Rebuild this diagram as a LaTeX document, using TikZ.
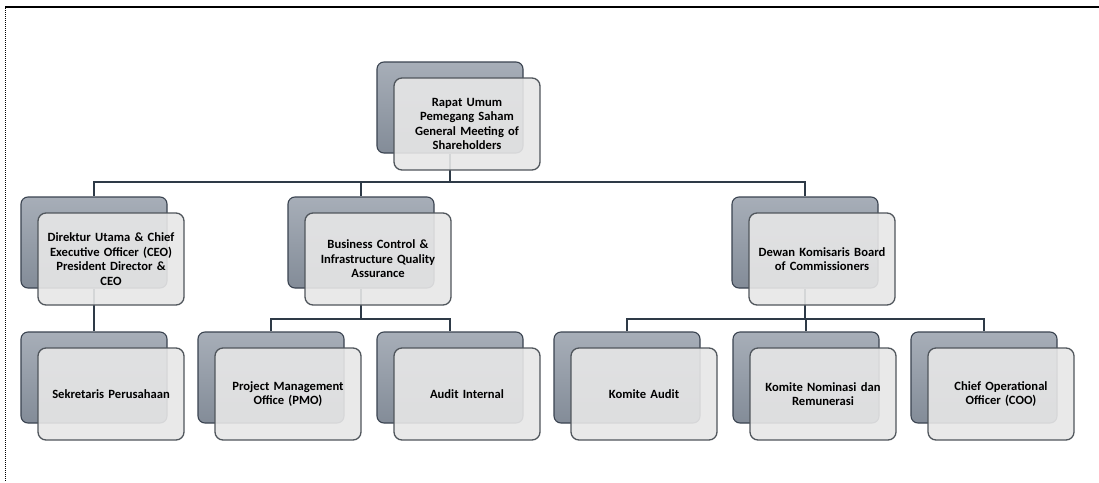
\documentclass[tikz,border=0pt]{standalone}
\usepackage{fontspec}
\setmainfont{Carlito}
\usetikzlibrary{calc}

\definecolor{linkcol}{HTML}{2E3A47}
\definecolor{backtop}{HTML}{A7AEB8}
\definecolor{backbot}{HTML}{838C98}
\definecolor{backedge}{HTML}{3A4350}
\definecolor{frontfill}{HTML}{E7E7E7}
\definecolor{frontedge}{HTML}{50565C}

\tikzset{
  conn/.style={draw=linkcol, line width=2.2pt},
  backbox/.style={draw=backedge, line width=1.1pt, rounded corners=7pt,
    top color=backtop, bottom color=backbot,
    minimum width=146pt, minimum height=91pt, inner sep=0pt},
  frontbox/.style={draw=frontedge, line width=1.3pt, rounded corners=8pt,
    fill=frontfill, fill opacity=0.9, text opacity=1,
    minimum width=146pt, minimum height=92pt, inner sep=0pt,
    text width=144pt, align=center,
    font=\bfseries\fontsize{12.6}{14.5}\selectfont}
}

% one unit: a dark back card and a light front card carrying the label
% #1 name, #2 left edge of the back card, #3 top edge, #4 label
\newcommand\orgunit[4]{%
  \node[backbox] (#1b) at ($(#2,#3)+(73,45.5)$) {};
  \node[frontbox] (#1) at ($(#2,#3)+(90,62)$) {#4};
}

\begin{document}
\begin{tikzpicture}[x=1pt,y=-1pt]
  \useasboundingbox (0,0) rectangle (1099,482);
  \fill[white] (0,0) rectangle (1099,482);

  % page frame
  \draw[line width=1.6pt] (5,7) -- (1099,7);
  \draw[line width=1pt, densely dotted] (5,8) -- (5,482);

  % rows of the horizontal connector bars
  \coordinate (barA) at (0,182);
  \coordinate (barB) at (0,319);

  % back-card anchors, placed first so connectors sit behind the cards
  \begin{scope}[opacity=0]
    \node[backbox] (rupsb) at (450,107.5) {};
    \node[backbox] (ceob)  at (94,242.5) {};
    \node[backbox] (bcb)   at (361,242.5) {};
    \node[backbox] (dkb)   at (805,242.5) {};
    \node[backbox] (sekb)  at (94,377.5) {};
    \node[backbox] (pmob)  at (271,377.5) {};
    \node[backbox] (aib)   at (450,377.5) {};
    \node[backbox] (kab)   at (627,377.5) {};
    \node[backbox] (knb)   at (806,377.5) {};
    \node[backbox] (coob)  at (984,377.5) {};
  \end{scope}

  % connectors
  \draw[conn] (rupsb.south) -- (rupsb.south |- barA);
  \draw[conn] (ceob.north) -- (ceob.north |- barA) -- (dkb.north |- barA) -- (dkb.north);
  \draw[conn] (bcb.north) -- (bcb.north |- barA);

  \draw[conn] (ceob.south) -- (sekb.north);

  \draw[conn] (bcb.south) -- (bcb.south |- barB);
  \draw[conn] (pmob.north) -- (pmob.north |- barB) -- (aib.north |- barB) -- (aib.north);

  \draw[conn] (dkb.south) -- (dkb.south |- barB);
  \draw[conn] (kab.north) -- (kab.north |- barB) -- (coob.north |- barB) -- (coob.north);
  \draw[conn] (knb.north) -- (knb.north |- barB);

  % cards
  \orgunit{rups}{377}{62}{Rapat Umum\\Pemegang Saham\\General Meeting of\\Shareholders}
  \orgunit{ceo}{21}{197}{Direktur Utama \& Chief\\Executive Officer (CEO)\\President Director \&\\CEO}
  \orgunit{bc}{288}{197}{Business Control \&\\Infrastructure Quality\\Assurance}
  \orgunit{dk}{732}{197}{Dewan Komisaris Board\\of Commissioners}
  \orgunit{sek}{21}{332}{Sekretaris Perusahaan}
  \orgunit{pmo}{198}{332}{Project Management\\Office (PMO)}
  \orgunit{ai}{377}{332}{Audit Internal}
  \orgunit{ka}{554}{332}{Komite Audit}
  \orgunit{kn}{733}{332}{Komite Nominasi dan\\Remunerasi}
  \orgunit{coo}{911}{332}{Chief Operational\\Officer (COO)}
\end{tikzpicture}
\end{document}
